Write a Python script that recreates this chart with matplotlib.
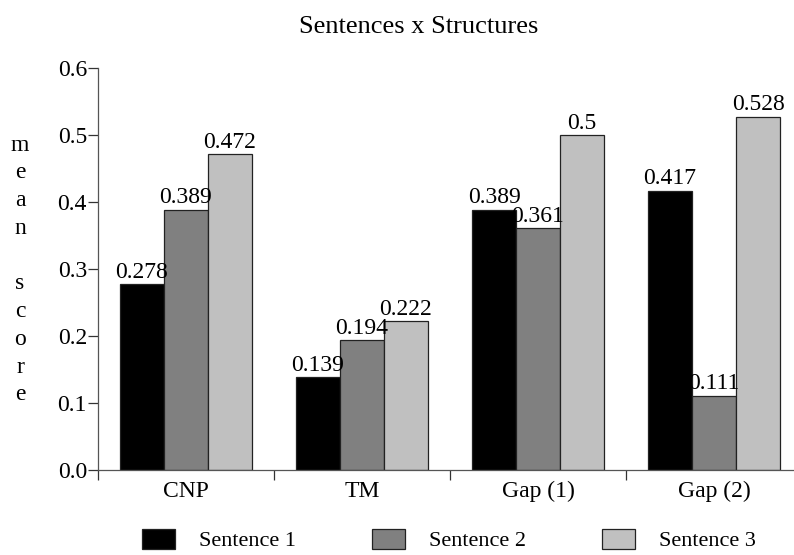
import matplotlib
matplotlib.use("Agg")
import matplotlib.pyplot as plt
import numpy as np

plt.rcParams['font.family'] = ['Liberation Serif', 'DejaVu Serif']

categories = ["CNP", "TM", "Gap (1)", "Gap (2)"]
series_names = ["Sentence 1", "Sentence 2", "Sentence 3"]
sentence1 = [0.278, 0.139, 0.389, 0.417]
sentence2 = [0.389, 0.194, 0.361, 0.111]
sentence3 = [0.472, 0.222, 0.5, 0.528]
colors = ["#000000", "#808080", "#c0c0c0"]
yticks = [0.0, 0.1, 0.2, 0.3, 0.4, 0.5, 0.6]

W, H = 794, 555
fig = plt.figure(figsize=(W / 100, H / 100), dpi=100)
ax = fig.add_axes([98 / W, 85 / H, 704 / W, (470 - 68.3) / H])

fs = 17
x = np.arange(len(categories))
width = 0.25
series = [sentence1, sentence2, sentence3]
handles = []
for i, (vals, c) in enumerate(zip(series, colors)):
    bars = ax.bar(x + (i - 1) * width, vals, width, color=c, edgecolor="#222222",
                  linewidth=0.9, label=series_names[i])
    handles.append(bars)
    for b, v in zip(bars, vals):
        ax.text(b.get_x() + b.get_width() / 2, v + 0.002, f"{v:g}",
                ha="center", va="bottom", fontsize=fs)

ax.set_xlim(-0.5, len(categories) - 0.5)
ax.set_ylim(0, 0.6)
ax.set_yticks(yticks)
ax.set_yticklabels([f"{t:.1f}" for t in yticks], fontsize=fs)
ax.set_xticks(x)
ax.set_xticklabels(categories, fontsize=fs)
ax.set_xticks(np.arange(len(categories) + 1) - 0.5, minor=True)
ax.tick_params(axis="x", which="major", length=0, pad=8)
ax.tick_params(axis="x", which="minor", length=7, direction="out", color="#333333", width=0.9)
ax.tick_params(axis="y", length=7, direction="out", color="#333333", width=0.9, pad=1)
for s in ["top", "right"]:
    ax.spines[s].set_visible(False)
for s in ["left", "bottom"]:
    ax.spines[s].set_color("#555555")
    ax.spines[s].set_linewidth(0.9)
ax.spines["bottom"].set_clip_on(False)

fig.text(419 / W, 1 - 27 / H, "Sentences x Structures", ha="center", va="center", fontsize=19)
fig.text(20 / W, 1 - 270 / H, "\n".join(list("mean score")), ha="center", va="center",
         fontsize=fs, linespacing=1.42)

leg = fig.legend(handles=handles, labels=series_names, loc="center",
                 bbox_to_anchor=(449 / W, 1 - 540 / H), ncol=3, frameon=False,
                 fontsize=16, handlelength=1.49, handleheight=1.04,
                 handletextpad=1.08, columnspacing=3.4, borderaxespad=0)

fig.savefig("out.png", dpi=100)
